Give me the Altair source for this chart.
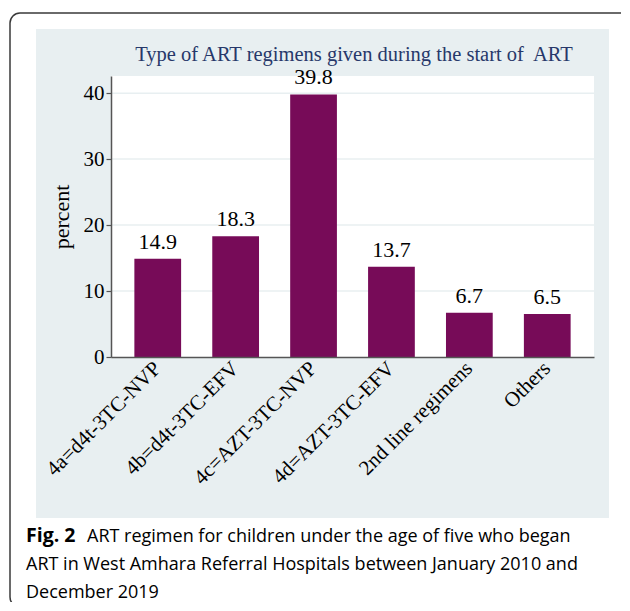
import altair as alt
import pandas as pd

categories = ["4a=d4t-3TC-NVP", "4b=d4t-3TC-EFV", "4c=AZT-3TC-NVP",
              "4d=AZT-3TC-EFV", "2nd line regimens", "Others"]
values = [14.9, 18.3, 39.8, 13.7, 6.7, 6.5]
y_ticks = [0, 10, 20, 30, 40]
grid_vals = [10, 20, 30, 40]

title_text = "Type of ART regimens given during the start of\u00a0 ART"
cap_bold = "Fig. 2"
cap_line1 = "ART regimen for children under the age of five who began"
cap_line2 = "ART in West Amhara Referral Hospitals between January 2010 and"
cap_line3 = "December 2019"

W, H = 483, 281
SERIF = "Liberation Serif"
SANS = "Open Sans"

df = pd.DataFrame({"cat": categories, "v": values})
gdf = pd.DataFrame({"v": grid_vals})
one = pd.DataFrame({"a": [0]})

yscale = alt.Scale(domain=[0, 42.6], nice=False)
xscale = alt.Scale(domain=categories, paddingInner=0.4, paddingOuter=0.3)

yaxis = alt.Axis(title="percent", values=y_ticks, grid=False,
                 labelFont=SERIF, labelFontSize=21, labelColor="black",
                 titleFont=SERIF, titleFontSize=22, titleFontWeight="normal",
                 titleColor="black", titlePadding=10,
                 tickColor="#555555", tickSize=5, tickWidth=1.2,
                 domainColor="#555555", domainWidth=1.5, labelPadding=2,
                 zindex=1)

border = alt.Chart(one).mark_rect(fill="white", stroke="#3a3a3a", strokeWidth=1.5,
                                  cornerRadius=10).encode(
    x=alt.value(-101), x2=alt.value(530), y=alt.value(-63), y2=alt.value(531))
panel = alt.Chart(one).mark_rect(fill="#e8eff1").encode(
    x=alt.value(-75), x2=alt.value(498), y=alt.value(-47), y2=alt.value(442))
plotbg = alt.Chart(one).mark_rect(fill="white").encode(
    x=alt.value(0), x2=alt.value(W), y=alt.value(0), y2=alt.value(H))

grid = alt.Chart(gdf).mark_rule(color="#e8eff1", strokeWidth=1.5).encode(
    y=alt.Y("v:Q", scale=yscale, axis=yaxis))

bars = alt.Chart(df).mark_bar(color="#770b58").encode(
    x=alt.X("cat:N", scale=xscale, sort=categories,
            axis=alt.Axis(title=None, labelAngle=-45, labelAlign="right",
                          labelBaseline="middle", ticks=False, labelPadding=8,
                          labelFont=SERIF, labelFontSize=21, labelColor="black",
                          domainColor="#555555", domainWidth=1.5, zindex=1)),
    y=alt.Y("v:Q", scale=yscale, axis=yaxis))

labels = alt.Chart(df).mark_text(font=SERIF, fontSize=22, baseline="bottom", dy=-5,
                                 color="black").encode(
    x=alt.X("cat:N", scale=xscale, sort=categories),
    y=alt.Y("v:Q", scale=yscale, axis=yaxis),
    text=alt.Text("v:Q", format=".1f"))

title = alt.Chart(one).mark_text(text=title_text, font=SERIF, fontSize=20.5,
                                 color="#27386a", align="center").encode(
    x=alt.value(243), y=alt.value(-15))

cb = alt.Chart(one).mark_text(text=cap_bold, font=SANS, fontSize=19.5, fontWeight="bold",
                              align="left", color="black").encode(
    x=alt.value(-85), y=alt.value(466))
c1 = alt.Chart(one).mark_text(text=cap_line1, font=SANS, fontSize=18, align="left",
                              color="black").encode(x=alt.value(-24), y=alt.value(466))
c2 = alt.Chart(one).mark_text(text=cap_line2, font=SANS, fontSize=18, align="left",
                              color="black").encode(x=alt.value(-85), y=alt.value(494))
c3 = alt.Chart(one).mark_text(text=cap_line3, font=SANS, fontSize=18, align="left",
                              color="black").encode(x=alt.value(-85), y=alt.value(522))

chart = alt.layer(border, panel, plotbg, grid, bars, labels, title, cb, c1, c2, c3).properties(
    width=W, height=H,
    padding={"left": 103, "top": 68, "right": 27, "bottom": 245},
    autosize=alt.AutoSizeParams(type="none"),
).configure_view(stroke=None).configure_text(baseline="alphabetic")

chart.save("out.html", embed_options={"renderer": "svg", "actions": False})
